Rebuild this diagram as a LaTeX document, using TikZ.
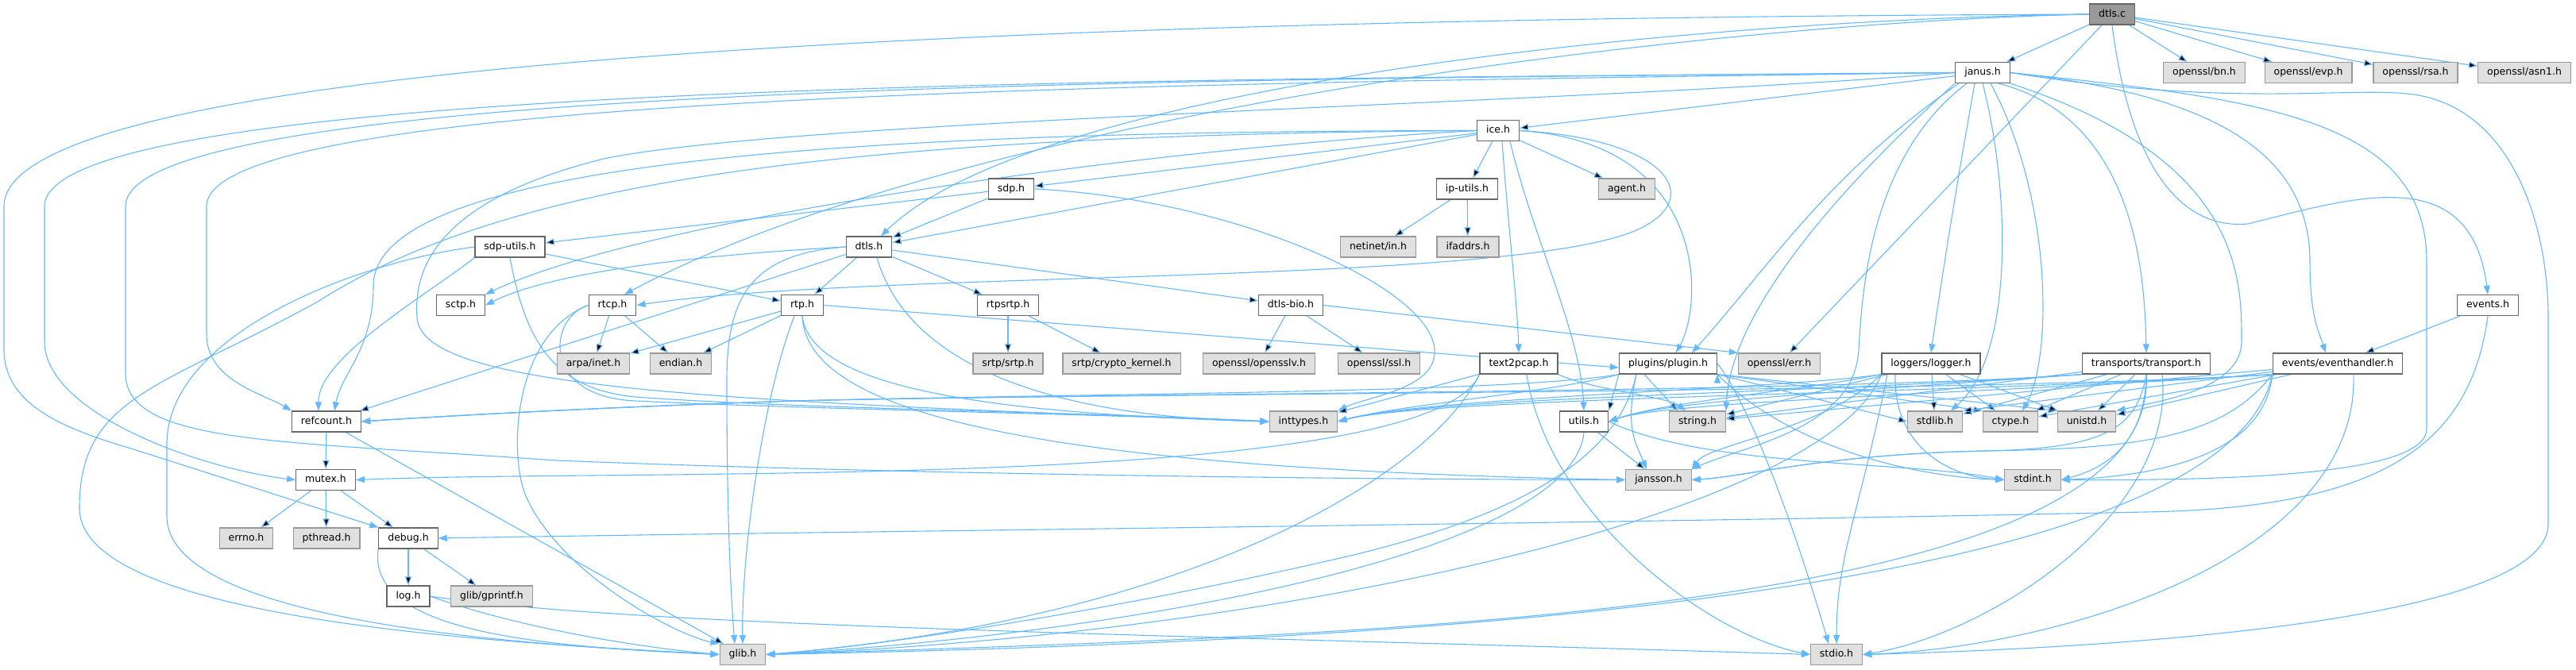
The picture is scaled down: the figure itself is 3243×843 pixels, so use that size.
\documentclass[tikz,border=0pt]{standalone}
\usepackage{fontspec}
\setmainfont{DejaVu Sans}
\usepackage{tikz}
\usepackage{xcolor}
\usetikzlibrary{arrows.meta, backgrounds}
\definecolor{edgeblue}{HTML}{63B8FF}
\definecolor{extfill}{HTML}{E0E0E0}
\definecolor{extline}{HTML}{999999}
\definecolor{docline}{HTML}{666666}

\begin{document}
\begin{tikzpicture}[x=1pt,y=-1pt,
    hdr/.style={draw, line width=1.2pt, minimum height=26pt, inner xsep=11.5pt, inner ysep=0pt,
      font=\fontsize{12.5}{15}\selectfont, text height=9.5pt, text depth=3pt},
    doc/.style={hdr, draw=docline, fill=white},
    ext/.style={hdr, draw=extline, fill=extfill},
    root/.style={hdr, draw=docline, fill=extline},
    dep/.style={draw=edgeblue, line width=1.1pt, -{Triangle[length=11pt,width=8pt]}}]
    \useasboundingbox (0,0) rectangle (3243,843);

    \node[root] (dtlsc)     at (2659,18)    {dtls.c};
    \node[doc]  (janus)     at (2496,91.5)  {janus.h};
    \node[ext]  (bn)        at (2775,91.5)  {openssl/bn.h};
    \node[ext]  (evp)       at (2906,91.5)  {openssl/evp.h};
    \node[ext]  (rsa)       at (3041,91.5)  {openssl/rsa.h};
    \node[ext]  (asn1)      at (3178,91.5)  {openssl/asn1.h};
    \node[doc]  (ice)       at (1886,164.5) {ice.h};
    \node[doc]  (sdp)       at (1273,238)   {sdp.h};
    \node[doc]  (iputils)   at (1847,238)   {ip-utils.h};
    \node[ext]  (agent)     at (2048,238)   {agent.h};
    \node[doc]  (sdputils)  at (642,311)    {sdp-utils.h};
    \node[doc]  (dtlsh)     at (1094,311)   {dtls.h};
    \node[ext]  (netinet)   at (1735,311)   {netinet/in.h};
    \node[ext]  (ifaddrs)   at (1848,311)   {ifaddrs.h};
    \node[doc]  (sctp)      at (580,384.5)  {sctp.h};
    \node[doc]  (rtcp)      at (771,384.5)  {rtcp.h};
    \node[doc]  (rtp)       at (1010,384.5) {rtp.h};
    \node[doc]  (rtpsrtp)   at (1269,384.5) {rtpsrtp.h};
    \node[doc]  (dtlsbio)   at (1625,384.5) {dtls-bio.h};
    \node[doc]  (events)    at (3132,384.5) {events.h};
    \node[ext]  (arpa)      at (747,458)    {arpa/inet.h};
    \node[ext]  (endian)    at (857,458)    {endian.h};
    \node[ext]  (srtp)      at (1269,458)   {srtp/srtp.h};
    \node[ext]  (crypto)    at (1412,458)   {srtp/crypto\_kernel.h};
    \node[ext]  (opensslv)  at (1585,458)   {openssl/opensslv.h};
    \node[ext]  (ssl)       at (1736,458)   {openssl/ssl.h};
    \node[doc]  (text2pcap) at (1912,458)   {text2pcap.h};
    \node[doc]  (plugin)    at (2100,458)   {plugins/plugin.h};
    \node[ext]  (err)       at (2240,458)   {openssl/err.h};
    \node[doc]  (logger)    at (2431,458)   {loggers/logger.h};
    \node[doc]  (transport) at (2702,458)   {transports/transport.h};
    \node[doc]  (evhandler) at (2943,458)   {events/eventhandler.h};
    \node[doc]  (refcount)  at (411,531)    {refcount.h};
    \node[ext]  (inttypes)  at (1641,531)   {inttypes.h};
    \node[doc]  (utils)     at (1994,531)   {utils.h};
    \node[ext]  (string)    at (2137,531)   {string.h};
    \node[ext]  (stdlib)    at (2436,531)   {stdlib.h};
    \node[ext]  (ctype)     at (2531,531)   {ctype.h};
    \node[ext]  (unistd)    at (2627,531)   {unistd.h};
    \node[doc]  (mutex)     at (410,604.5)  {mutex.h};
    \node[ext]  (jansson)   at (2088,604.5) {jansson.h};
    \node[ext]  (stdint)    at (2559,604.5) {stdint.h};
    \node[ext]  (errno)     at (310,678)    {errno.h};
    \node[ext]  (pthread)   at (411,678)    {pthread.h};
    \node[doc]  (debug)     at (514,678)    {debug.h};
    \node[doc]  (log)       at (514,751)    {log.h};
    \node[ext]  (gprintf)   at (619,751)    {glib/gprintf.h};
    \node[ext]  (glib)      at (935,824.5)  {glib.h};
    \node[ext]  (stdio)     at (2312,824.5) {stdio.h};

    \begin{scope}[on background layer]
    % dtls.c
    \path[dep] (dtlsc) edge (janus) edge (bn) edge (evp) edge (rsa) edge (asn1) edge (err);
    \draw[dep] (dtlsc.south) .. controls (2680,200) and (2740,290) .. (2830,282) .. controls (2960,250) and (3110,200) .. (events.north);
    \draw[dep] (dtlsc.west) .. controls (2100,25) and (1300,110) .. ([xshift=15]dtlsh.north);
    \draw[dep] (dtlsc.west) .. controls (2100,30) and (1200,150) .. ([xshift=15]rtcp.north);
    \draw[dep] (dtlsc.west) .. controls (1500,22) and (5,60) .. (5,260) -- (5,440) .. controls (5,510) and (80,540) .. (165,565) -- (debug.north west);

    % janus.h
    \path[dep] (janus) edge (ice);
    \draw[dep] (janus.west) .. controls (1500,105) and (260,115) .. (260,260) -- (260,420) .. controls (260,480) and (330,495) .. (refcount.north west);
    \draw[dep] (janus.west) .. controls (1500,100) and (56,100) .. (56,260) -- (56,430) .. controls (56,520) and (250,590) .. (mutex.west);
    \draw[dep] (janus.west) .. controls (1500,100) and (158,105) .. (158,260) -- (158,470) .. controls (158,560) and (350,555) .. (700,580) .. controls (1200,600) and (1800,604) .. (jansson.west);
    \draw[dep] (janus.west) .. controls (2000,130) and (1000,150) .. (760,200) .. controls (560,250) and (520,330) .. (525,400) .. controls (530,490) and (900,505) .. (inttypes.west);
    \draw[dep] ([xshift=-35]janus.south) .. controls (2300,250) and (2178,400) .. (string.north east);
    \draw[dep] ([xshift=-30]janus.south) .. controls (2300,220) and (2232,330) .. ([xshift=30]plugin.north);
    \draw[dep] ([xshift=-20]janus.south) .. controls (2350,200) and (2344,380) .. (2340,440) .. controls (2335,540) and (2200,560) .. (jansson.north east);
    \draw[dep] ([xshift=-10]janus.south) .. controls (2460,250) and (2440,380) .. (logger.north);
    \draw[dep] (janus.south) .. controls (2533,250) and (2533,450) .. ([xshift=20]stdlib.north);
    \draw[dep] ([xshift=10]janus.south) .. controls (2584,250) and (2584,450) .. ([xshift=15]ctype.north);
    \draw[dep] ([xshift=20]janus.south) .. controls (2690,150) and (2700,350) .. (transport.north);
    \draw[dep] (janus.south east) .. controls (2822,200) and (2822,350) .. (2822,430) .. controls (2822,490) and (2720,505) .. (unistd.north east);
    \draw[dep] (janus.east) .. controls (2800,120) and (2908,200) .. (2908,330) .. controls (2908,400) and (2920,420) .. ([xshift=-15]evhandler.north);
    \draw[dep] (janus.east) .. controls (2850,125) and (3055,150) .. (3055,330) -- (3055,540) .. controls (3055,600) and (2800,605) .. (stdint.east);
    \draw[dep] (janus.east) .. controls (2800,135) and (2950,110) .. (3030,118) .. controls (3160,130) and (3208,280) .. (3208,400) -- (3208,660) .. controls (3208,790) and (2600,818) .. (stdio.east);

    % ice.h
    \path[dep] (ice) edge (agent) edge (iputils) edge (sdp) edge (dtlsh);
    \draw[dep] (ice.west) .. controls (1400,190) and (800,280) .. (sctp.north east);
    \draw[dep] (ice.east) .. controls (2100,175) and (2150,250) .. (2060,290) .. controls (1900,360) and (1100,340) .. (rtcp.east);
    \draw[dep] (ice.east) .. controls (2150,180) and (2145,380) .. ([xshift=10]plugin.north);
    \draw[dep] ([xshift=5]ice.south) .. controls (1900,300) and (1910,380) .. (text2pcap.north);
    \draw[dep] ([xshift=15]ice.south) .. controls (1930,300) and (1990,420) .. (utils.north);
    \draw[dep] (ice.west) .. controls (1100,165) and (470,200) .. (470,360) .. controls (470,440) and (430,470) .. ([xshift=10]refcount.north);
    \draw[dep] (ice.west) .. controls (1100,170) and (650,220) .. (400,380) .. controls (200,490) and (100,500) .. (100,640) .. controls (100,790) and (700,812) .. (glib.west);

    % sdp.h, sdp-utils.h
    \path[dep] (sdp) edge (sdputils) edge (dtlsh);
    \draw[dep] (sdp.east) .. controls (1550,250) and (1800,360) .. (1806,440) .. controls (1810,490) and (1720,500) .. (inttypes.north east);
    \path[dep] (sdputils) edge (rtp);
    \draw[dep] (sdputils.south west) .. controls (540,370) and (400,450) .. ([xshift=-10]refcount.north);
    \draw[dep] (sdputils.west) .. controls (450,330) and (210,420) .. (210,560) -- (210,650) .. controls (210,790) and (700,814) .. (glib.west);
    \draw[dep] (sdputils.south) .. controls (660,420) and (690,490) .. (800,500) .. controls (1000,515) and (1400,520) .. (inttypes.west);

    % dtls.h
    \path[dep] (dtlsh) edge (rtp) edge (rtpsrtp) edge (dtlsbio) edge (refcount);
    \draw[dep] (dtlsh.west) .. controls (900,320) and (700,340) .. (sctp.east);
    \draw[dep] ([xshift=10]dtlsh.south) .. controls (1140,450) and (1300,525) .. (inttypes.west);
    \draw[dep] (dtlsh.west) .. controls (940,320) and (915,380) .. (915,480) .. controls (915,650) and (920,750) .. ([xshift=-10]glib.north);
    \path[dep] (dtlsbio) edge (opensslv) edge (ssl);
    \draw[dep] (dtlsbio.east) -- (err.north west);
    \path[dep] (rtpsrtp) edge (srtp) edge (crypto);

    % rtcp.h, rtp.h
    \path[dep] (rtcp) edge (arpa) edge (endian);
    \draw[dep] (rtcp.west) .. controls (690,400) and (680,500) .. (800,505) .. controls (1000,515) and (1400,522) .. (inttypes.west);
    \draw[dep] (rtcp.west) .. controls (650,420) and (640,560) .. (660,620) .. controls (700,720) and (850,800) .. (glib.north west);
    \path[dep] (rtp) edge (arpa) edge (endian);
    \draw[dep] ([xshift=-10]rtp.south) .. controls (960,500) and (933,700) .. (glib.north);
    \draw[dep] (rtp.south) .. controls (1020,480) and (1200,520) .. (inttypes.west);
    \draw[dep] (rtp.south) .. controls (1015,520) and (1300,590) .. (jansson.west);
    \draw[dep] (rtp.east) -- ([yshift=-5]plugin.west);

    % text2pcap.h
    \path[dep] (text2pcap) edge (inttypes);
    \draw[dep] (text2pcap.south east) .. controls (2000,490) and (2100,500) .. ([xshift=-15]string.north);
    \draw[dep] (text2pcap.south west) .. controls (1800,600) and (1500,780) .. (glib.east);
    \draw[dep] ([xshift=10]text2pcap.south) .. controls (1950,650) and (2150,800) .. (stdio.west);
    \draw[dep] (text2pcap.south west) .. controls (1800,620) and (800,590) .. (mutex.east);

    % plugins/plugin.h
    \path[dep] (plugin.south west) edge (utils.north east)
               ([xshift=-30]plugin.south) edge ([xshift=-25]string.north)
               (plugin.south east) edge (stdlib.west) edge (ctype.north west) edge (unistd.north west);
    \draw[dep] (plugin.south west) .. controls (1950,495) and (1760,510) .. (inttypes.east);
    \draw[dep] ([xshift=-40]plugin.south) .. controls (2045,540) and (2060,560) .. ([xshift=-15]jansson.north);
    \draw[dep] (plugin.south east) .. controls (2250,560) and (2400,600) .. (stdint.west);
    \draw[dep] (plugin.east) .. controls (2210,520) and (2270,700) .. ([xshift=-10]stdio.north);
    \draw[dep] ([xshift=-40]plugin.south) .. controls (2040,560) and (1950,640) .. (1700,700) .. controls (1400,770) and (1100,815) .. (glib.east);
    \draw[dep] (plugin.south west) .. controls (1900,495) and (1400,495) .. (1000,505) .. controls (700,515) and (500,528) .. (refcount.east);

    % loggers/logger.h
    \path[dep] (logger) edge (stdlib) edge (ctype) edge (unistd) edge (string);
    \draw[dep] (logger.south west) .. controls (2250,490) and (1800,500) .. (inttypes.east);
    \draw[dep] (logger.south west) .. controls (2250,495) and (2100,505) .. (utils.east);
    \draw[dep] (logger.south west) .. controls (2300,540) and (2150,560) .. (jansson.north east);
    \draw[dep] ([xshift=-45]logger.south) .. controls (2383,560) and (2450,600) .. (stdint.west);
    \draw[dep] ([xshift=-55]logger.south) .. controls (2340,650) and (2312,700) .. (stdio.north);
    \draw[dep] (logger.south west) .. controls (2300,650) and (1600,800) .. (glib.east);

    % transports/transport.h
    \path[dep] (transport) edge (unistd) edge (ctype) edge (stdlib) edge (string);
    \draw[dep] (transport.south west) .. controls (2300,495) and (1800,500) .. (inttypes.east);
    \draw[dep] (transport.south west) .. controls (2300,495) and (2100,505) .. (utils.east);
    \draw[dep] (transport.south) .. controls (2690,540) and (2650,565) .. (2500,568) .. controls (2300,572) and (2200,600) .. (jansson.east);
    \draw[dep] (transport.south) .. controls (2700,560) and (2650,590) .. (stdint.east);
    \draw[dep] ([xshift=20]transport.south) .. controls (2740,650) and (2500,800) .. (stdio.east);
    \draw[dep] (transport.south) .. controls (2720,780) and (1700,800) .. (glib.east);
    \draw[dep] (transport.south west) .. controls (2300,495) and (1400,495) .. (1000,505) .. controls (700,515) and (500,528) .. (refcount.east);

    % events/eventhandler.h, events.h
    \path[dep] (evhandler) edge (unistd) edge (ctype) edge (stdlib.north east) edge (string);
    \draw[dep] (evhandler.south west) .. controls (2500,495) and (1800,500) .. (inttypes.east);
    \draw[dep] (evhandler.south west) .. controls (2500,495) and (2100,505) .. (utils.east);
    \draw[dep] (evhandler.south west) .. controls (2800,550) and (2700,565) .. (2500,568) .. controls (2300,572) and (2200,600) .. (jansson.east);
    \draw[dep] (evhandler.south west) .. controls (2850,580) and (2700,600) .. (stdint.east);
    \draw[dep] ([xshift=20]evhandler.south) .. controls (2970,700) and (2600,815) .. (stdio.east);
    \draw[dep] (evhandler.south west) .. controls (2800,760) and (1700,810) .. (glib.east);
    \draw[dep] (evhandler.south west) .. controls (2500,495) and (1400,495) .. (1000,505) .. controls (700,515) and (500,528) .. (refcount.east);
    \path[dep] (events) edge (evhandler);
    \draw[dep] (events.south) .. controls (3110,560) and (3000,640) .. (2700,645) .. controls (2000,660) and (1000,670) .. (debug.east);

    % utils.h
    \path[dep] (utils) edge (jansson);
    \draw[dep] (utils.east) .. controls (2150,590) and (2400,580) .. (stdint.west);
    \draw[dep] (utils.south) .. controls (1980,700) and (1400,800) .. (glib.east);

    % ip-utils.h, refcount.h, mutex.h, debug.h, log.h
    \path[dep] (iputils) edge (netinet) edge (ifaddrs);
    \path[dep] (refcount) edge (mutex) edge (glib);
    \path[dep] (mutex) edge (errno) edge (pthread) edge (debug);
    \path[dep] (debug) edge (log) edge (gprintf);
    \draw[dep] (debug.south west) .. controls (460,800) and (700,815) .. (glib.west);
    \draw[dep] (log.east) .. controls (650,790) and (800,815) .. (glib.west);
    \draw[dep] (log.east) .. controls (800,790) and (1500,800) .. (stdio.west);
    \end{scope}
\end{tikzpicture}
\end{document}
